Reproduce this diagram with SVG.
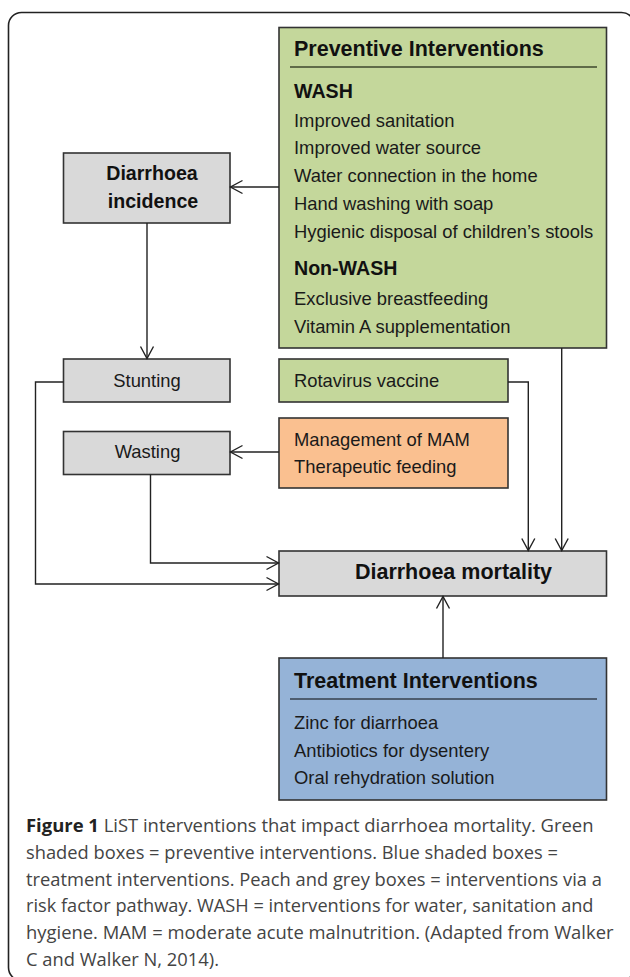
<svg xmlns="http://www.w3.org/2000/svg" width="630" height="977" viewBox="0 0 630 977">
<style>
.box{stroke:#333;stroke-width:1.6}
.grey{fill:#d9d9d9}
.green{fill:#c4d79b}
.peach{fill:#fac090}
.blue{fill:#95b3d7}
.t{font-family:"Liberation Sans",Arial,sans-serif;font-size:18.4px;fill:#1a1a1a}
.b{font-family:"Liberation Sans",Arial,sans-serif;font-weight:bold;fill:#111}
.h1{font-size:21.5px}
.h2{font-size:19.6px}
.conn path{fill:none;stroke:#222;stroke-width:1.4}
.cap{font-family:"Open Sans","Noto Sans",sans-serif;font-size:18px;fill:#444}
</style>
<defs>
<marker id="arr" markerUnits="userSpaceOnUse" markerWidth="16" markerHeight="16" viewBox="0 0 16 16" refX="14" refY="8" orient="auto">
<path d="M2,1.5 L14,8 L2,14.5" fill="none" stroke="#222" stroke-width="1.4"/>
</marker>
</defs>
<rect x="8.5" y="12.5" width="626" height="968" rx="13" fill="#fff" stroke="#222" stroke-width="1.6"/>

<g id="preventive">
<rect class="box green" x="279" y="27.5" width="327.5" height="320.5"/>
<text class="b h1" x="294" y="56">Preventive Interventions</text>
<line x1="290" y1="67" x2="597" y2="67" stroke="#5f6b48" stroke-width="2"/>
<text class="b h2" x="294" y="97.5">WASH</text>
<text class="t" x="294" y="126.6">Improved sanitation</text>
<text class="t" x="294" y="154.4">Improved water source</text>
<text class="t" x="294" y="182.3">Water connection in the home</text>
<text class="t" x="294" y="210.3">Hand washing with soap</text>
<text class="t" x="294" y="238.3">Hygienic disposal of children’s stools</text>
<text class="b h2" x="294" y="275.3">Non-WASH</text>
<text class="t" x="294" y="305">Exclusive breastfeeding</text>
<text class="t" x="294" y="332.6">Vitamin A supplementation</text>
</g>

<g id="incidence">
<rect class="box grey" x="63.5" y="153" width="166.5" height="70"/>
<text class="b h2" x="152" y="180" text-anchor="middle">Diarrhoea</text>
<text class="b h2" x="153" y="208" text-anchor="middle">incidence</text>
</g>

<g id="stunting">
<rect class="box grey" x="63.5" y="359" width="166.5" height="43"/>
<text class="t" x="147" y="386.6" text-anchor="middle">Stunting</text>
</g>

<g id="rotavirus">
<rect class="box green" x="279" y="359" width="229" height="43"/>
<text class="t" x="294" y="386.6">Rotavirus vaccine</text>
</g>

<g id="wasting">
<rect class="box grey" x="63.5" y="431.5" width="166.5" height="43"/>
<text class="t" x="147.5" y="458.3" text-anchor="middle">Wasting</text>
</g>

<g id="mam">
<rect class="box peach" x="279" y="418" width="229" height="70"/>
<text class="t" x="294" y="445.6">Management of MAM</text>
<text class="t" x="294" y="473.3">Therapeutic feeding</text>
</g>

<g id="mortality">
<rect class="box grey" x="279" y="551" width="327.5" height="45"/>
<text class="b h1" x="453.5" y="579.3" text-anchor="middle">Diarrhoea mortality</text>
</g>

<g id="treatment">
<rect class="box blue" x="279" y="658" width="327.5" height="142"/>
<text class="b h1" x="294" y="687.7">Treatment Interventions</text>
<line x1="290" y1="699" x2="597" y2="699" stroke="#4e5d70" stroke-width="2"/>
<text class="t" x="294" y="729.3">Zinc for diarrhoea</text>
<text class="t" x="294" y="757.3">Antibiotics for dysentery</text>
<text class="t" x="294" y="784.3">Oral rehydration solution</text>
</g>

<g id="connectors" class="conn">
<path d="M279,187 H230.5" marker-end="url(#arr)"/>
<path d="M147,223 V358.5" marker-end="url(#arr)"/>
<path d="M63.5,382 H35.5 V584 H278.5" marker-end="url(#arr)"/>
<path d="M150.5,474.5 V563 H278.5" marker-end="url(#arr)"/>
<path d="M279,452 H230.5" marker-end="url(#arr)"/>
<path d="M508,382 H528.3 V550.5" marker-end="url(#arr)"/>
<path d="M561.7,348 V550.5" marker-end="url(#arr)"/>
<path d="M443,658 V596.5" marker-end="url(#arr)"/>
</g>

<g id="caption">
<text class="cap" x="26" y="831.5" textLength="567.5" lengthAdjust="spacingAndGlyphs"><tspan font-weight="bold" fill="#222">Figure 1</tspan> LiST interventions that impact diarrhoea mortality. Green</text>
<text class="cap" x="26" y="858.5" textLength="532" lengthAdjust="spacingAndGlyphs">shaded boxes = preventive interventions. Blue shaded boxes =</text>
<text class="cap" x="26" y="885.5" textLength="576" lengthAdjust="spacingAndGlyphs">treatment interventions. Peach and grey boxes = interventions via a</text>
<text class="cap" x="26" y="912" textLength="567.5" lengthAdjust="spacingAndGlyphs">risk factor pathway. WASH = interventions for water, sanitation and</text>
<text class="cap" x="26" y="938.8" textLength="587.5" lengthAdjust="spacingAndGlyphs">hygiene. MAM = moderate acute malnutrition. (Adapted from Walker</text>
<text class="cap" x="26" y="965.5" textLength="193" lengthAdjust="spacingAndGlyphs">C and Walker N, 2014).</text>
</g>
</svg>
